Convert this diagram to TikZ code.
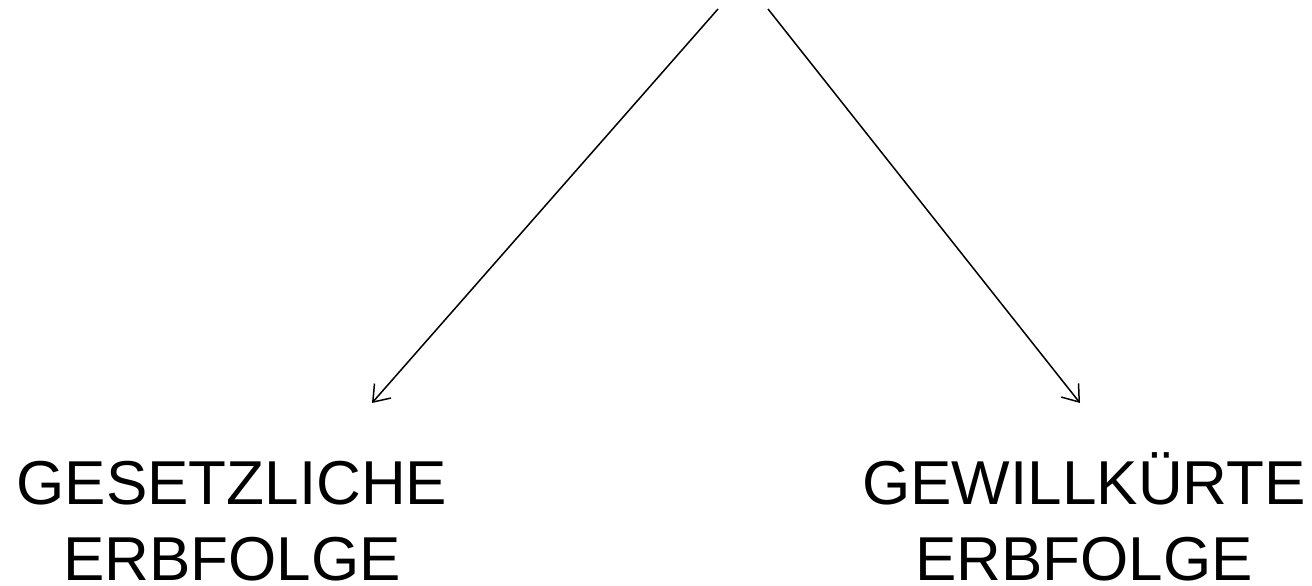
\documentclass[tikz,border=0pt]{standalone}
\usepackage{fontspec}
\setmainfont{Liberation Sans}
\usetikzlibrary{arrows.meta}
\begin{document}
\begin{tikzpicture}[x=1pt,y=-1pt,
  conn/.style={line width=1.5pt,-{Straight Barb[length=15pt,width=22pt,line width=1.5pt]}},
  lbl/.style={inner sep=0pt,align=center,font=\fontsize{62}{76}\selectfont,anchor=base}]
\useasboundingbox (0,0) rectangle (1312,586);
\coordinate (s1) at (718,9);
\coordinate (s2) at (768,9);
\coordinate (e1) at (372,403);
\coordinate (e2) at (1080,403);
\node[lbl] (ges) at (232,580) {GESETZLICHE\\ERBFOLGE};
\node[lbl] (gew) at (1084,580) {GEWILLKÜRTE\\ERBFOLGE};
\draw[conn] (s1) -- (e1);
\draw[conn] (s2) -- (e2);
\end{tikzpicture}
\end{document}
